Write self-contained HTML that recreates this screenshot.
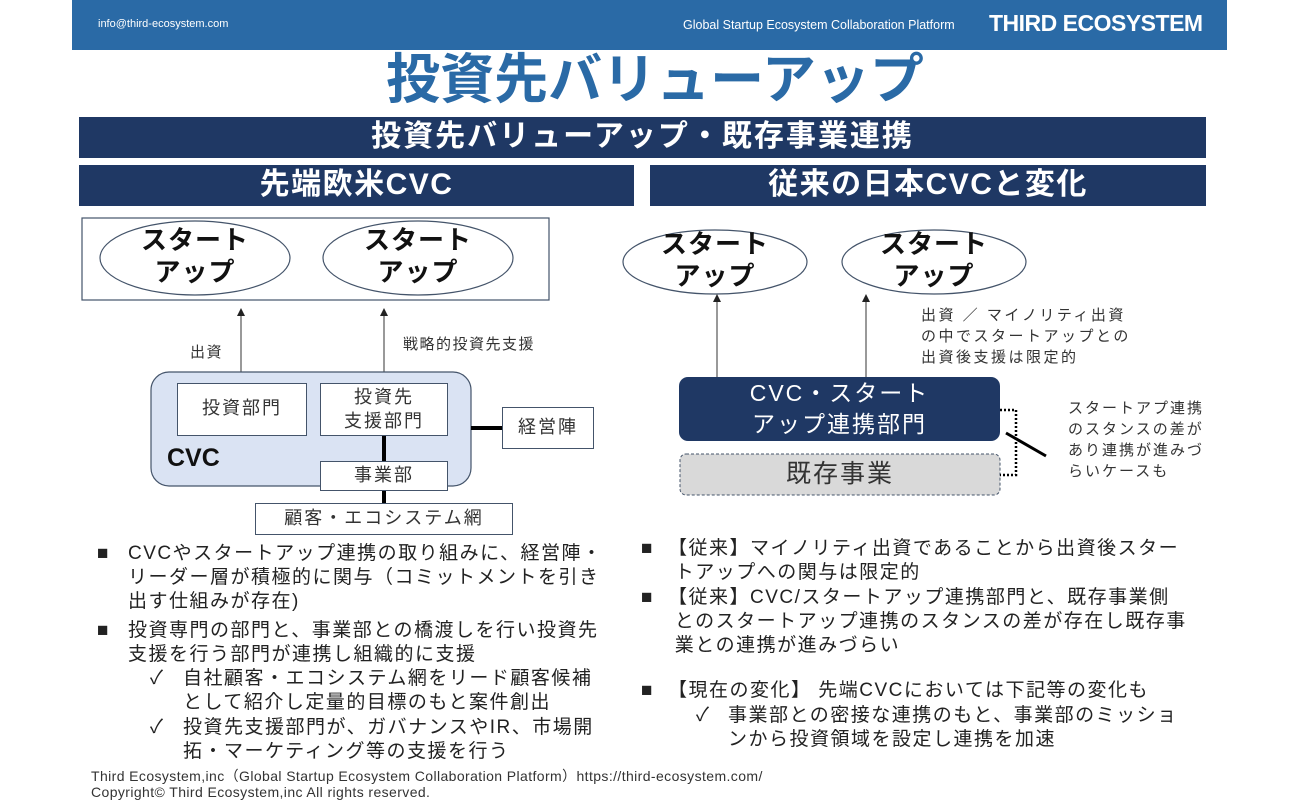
<!DOCTYPE html>
<html><head><meta charset="utf-8"><style>
*{margin:0;padding:0;box-sizing:border-box}
body{width:1300px;height:800px;background:#fff;position:relative;overflow:hidden;font-family:"Liberation Sans","Noto Sans CJK JP",sans-serif;color:#222}
.a{position:absolute;white-space:nowrap}
.bar{position:absolute;background:#1f3864;color:#fff;font-weight:bold;text-align:center}
.box{position:absolute;background:#fff;border:1.5px solid #44546a;text-align:center;color:#333;font-size:18px;letter-spacing:2px}
.t{position:absolute;white-space:nowrap;font-size:19px;letter-spacing:1.5px;line-height:24px;color:#222}
</style></head><body>
<div style="position:absolute;left:72px;top:0;width:1155px;height:50px;background:#2a6aa6"></div>
<div class="a" style="left:98px;top:18px;font-size:11px;color:#fff">info@third-ecosystem.com</div>
<div class="a" style="left:683px;top:18px;font-size:12.5px;color:#fff">Global Startup Ecosystem Collaboration Platform</div>
<div class="a" style="left:989px;top:10px;font-size:23px;font-weight:bold;color:#fff;letter-spacing:-0.5px">THIRD ECOSYSTEM</div>
<div class="a" style="left:0;width:1310px;text-align:center;top:48px;font-size:54px;font-weight:bold;color:#2a6aa6;line-height:64px;letter-spacing:0px">投資先バリューアップ</div>
<div class="bar" style="left:79px;top:117px;width:1127px;height:41px;font-size:30px;line-height:40px;letter-spacing:2px">投資先バリューアップ・既存事業連携</div>
<div class="bar" style="left:79px;top:165px;width:555px;height:41px;font-size:30px;line-height:40px;letter-spacing:1.5px">先端欧米CVC</div>
<div class="bar" style="left:650px;top:165px;width:556px;height:41px;font-size:30px;line-height:40px;letter-spacing:1.5px">従来の日本CVCと変化</div>

<svg style="position:absolute;left:0;top:0" width="1300" height="800">
<defs><marker id="ar" markerWidth="8" markerHeight="8" refX="4" refY="4" orient="auto"><path d="M0,0 L8,4 L0,8 z" fill="#222"/></marker></defs>
<rect x="82" y="218" width="467" height="82" fill="#fff" stroke="#44546a" stroke-width="1.2"/>
<ellipse cx="195" cy="258" rx="95" ry="37" fill="#fff" stroke="#44546a" stroke-width="1.2"/>
<ellipse cx="418" cy="258" rx="95" ry="37" fill="#fff" stroke="#44546a" stroke-width="1.2"/>
<line x1="241" y1="383" x2="241" y2="312" stroke="#333" stroke-width="1" marker-end="url(#ar)"/>
<line x1="384" y1="383" x2="384" y2="312" stroke="#333" stroke-width="1" marker-end="url(#ar)"/>
<rect x="151" y="372" width="320" height="114" rx="18" fill="#dae3f3" stroke="#44546a" stroke-width="1.2"/>
<line x1="384" y1="436" x2="384" y2="503" stroke="#000" stroke-width="4"/>
<line x1="471" y1="428" x2="502" y2="428" stroke="#000" stroke-width="4"/>
<ellipse cx="715" cy="262" rx="92" ry="32" fill="#fff" stroke="#44546a" stroke-width="1.2"/>
<ellipse cx="934" cy="262" rx="92" ry="32" fill="#fff" stroke="#44546a" stroke-width="1.2"/>
<line x1="717" y1="377" x2="717" y2="298" stroke="#333" stroke-width="1" marker-end="url(#ar)"/>
<line x1="866" y1="377" x2="866" y2="298" stroke="#333" stroke-width="1" marker-end="url(#ar)"/>
<rect x="679" y="377" width="321" height="64" rx="9" fill="#1f3864"/>
<rect x="680" y="454" width="320" height="41" rx="6" fill="#d9d9d9" stroke="#44546a" stroke-width="1" stroke-dasharray="3,2"/>
<polyline points="1000,410 1016,410 1016,475 1000,475" fill="none" stroke="#000" stroke-width="2.5" stroke-dasharray="2,2"/>
<line x1="1006" y1="433" x2="1046" y2="456" stroke="#000" stroke-width="3"/>
</svg>

<div class="a" style="left:100px;top:224px;width:190px;text-align:center;font-size:26px;font-weight:bold;line-height:32px;color:#111;letter-spacing:1px">スタート<br>アップ</div>
<div class="a" style="left:323px;top:224px;width:190px;text-align:center;font-size:26px;font-weight:bold;line-height:32px;color:#111;letter-spacing:1px">スタート<br>アップ</div>
<div class="a" style="left:190px;top:341px;font-size:15px;color:#333;letter-spacing:1.5px">出資</div>
<div class="a" style="left:403px;top:333px;font-size:15px;color:#333;letter-spacing:1.5px">戦略的投資先支援</div>
<div class="box" style="left:177px;top:383px;width:130px;height:53px;line-height:49px">投資部門</div>
<div class="box" style="left:320px;top:383px;width:128px;height:53px;line-height:24px;padding-top:1px">投資先<br>支援部門</div>
<div class="box" style="left:320px;top:461px;width:128px;height:30px;line-height:27px">事業部</div>
<div class="box" style="left:502px;top:407px;width:92px;height:42px;line-height:39px">経営陣</div>
<div class="box" style="left:255px;top:503px;width:258px;height:32px;line-height:29px">顧客・エコシステム網</div>
<div class="a" style="left:167px;top:444px;font-size:25px;font-weight:bold;color:#111">CVC</div>

<div class="a" style="left:623px;top:228px;width:184px;text-align:center;font-size:26px;font-weight:bold;line-height:32px;color:#111;letter-spacing:1px">スタート<br>アップ</div>
<div class="a" style="left:842px;top:228px;width:184px;text-align:center;font-size:26px;font-weight:bold;line-height:32px;color:#111;letter-spacing:1px">スタート<br>アップ</div>
<div class="a" style="left:921px;top:305px;font-size:15px;line-height:21px;color:#333;letter-spacing:2.5px">出資 ／ マイノリティ出資<br>の中でスタートアップとの<br>出資後支援は限定的</div>
<div class="a" style="left:679px;top:378px;width:321px;text-align:center;font-size:23px;line-height:31px;color:#fff;letter-spacing:2px">CVC・スタート<br>アップ連携部門</div>
<div class="a" style="left:680px;top:456px;width:320px;text-align:center;font-size:25px;line-height:36px;color:#333;letter-spacing:2px">既存事業</div>
<div class="a" style="left:1068px;top:398px;font-size:15px;line-height:21px;color:#333;letter-spacing:2px">スタートアプ連携<br>のスタンスの差が<br>あり連携が進みづ<br>らいケースも</div>

<div class="t" style="left:97px;top:542px">■</div>
<div class="t" style="left:128px;top:542px">CVCやスタートアップ連携の取り組みに、経営陣・<br>リーダー層が積極的に関与（コミットメントを引き<br>出す仕組みが存在)</div>
<div class="t" style="left:97px;top:619px">■</div>
<div class="t" style="left:128px;top:619px">投資専門の部門と、事業部との橋渡しを行い投資先<br>支援を行う部門が連携し組織的に支援</div>
<div class="t" style="left:150px;top:667px">✓</div>
<div class="t" style="left:183px;top:667px">自社顧客・エコシステム網をリード顧客候補<br>として紹介し定量的目標のもと案件創出</div>
<div class="t" style="left:150px;top:716px">✓</div>
<div class="t" style="left:183px;top:716px">投資先支援部門が、ガバナンスやIR、市場開<br>拓・マーケティング等の支援を行う</div>

<div class="t" style="left:641px;top:537px">■</div>
<div class="t" style="left:668px;top:537px">【従来】マイノリティ出資であることから出資後スター<br>&nbsp;トアップへの関与は限定的</div>
<div class="t" style="left:641px;top:586px">■</div>
<div class="t" style="left:668px;top:586px">【従来】CVC/スタートアップ連携部門と、既存事業側<br>&nbsp;とのスタートアップ連携のスタンスの差が存在し既存事<br>&nbsp;業との連携が進みづらい</div>
<div class="t" style="left:641px;top:679px">■</div>
<div class="t" style="left:668px;top:679px">【現在の変化】 先端CVCにおいては下記等の変化も</div>
<div class="t" style="left:696px;top:704px">✓</div>
<div class="t" style="left:728px;top:704px">事業部との密接な連携のもと、事業部のミッショ<br>ンから投資領域を設定し連携を加速</div>

<div class="a" style="left:91px;top:766px;font-size:14px;color:#333;letter-spacing:0.4px">Third Ecosystem,inc（Global Startup Ecosystem Collaboration Platform）https://third-ecosystem.com/</div>
<div class="a" style="left:91px;top:784px;font-size:14px;color:#333;letter-spacing:0.4px">Copyright© Third Ecosystem,inc  All rights reserved.</div>
</body></html>
